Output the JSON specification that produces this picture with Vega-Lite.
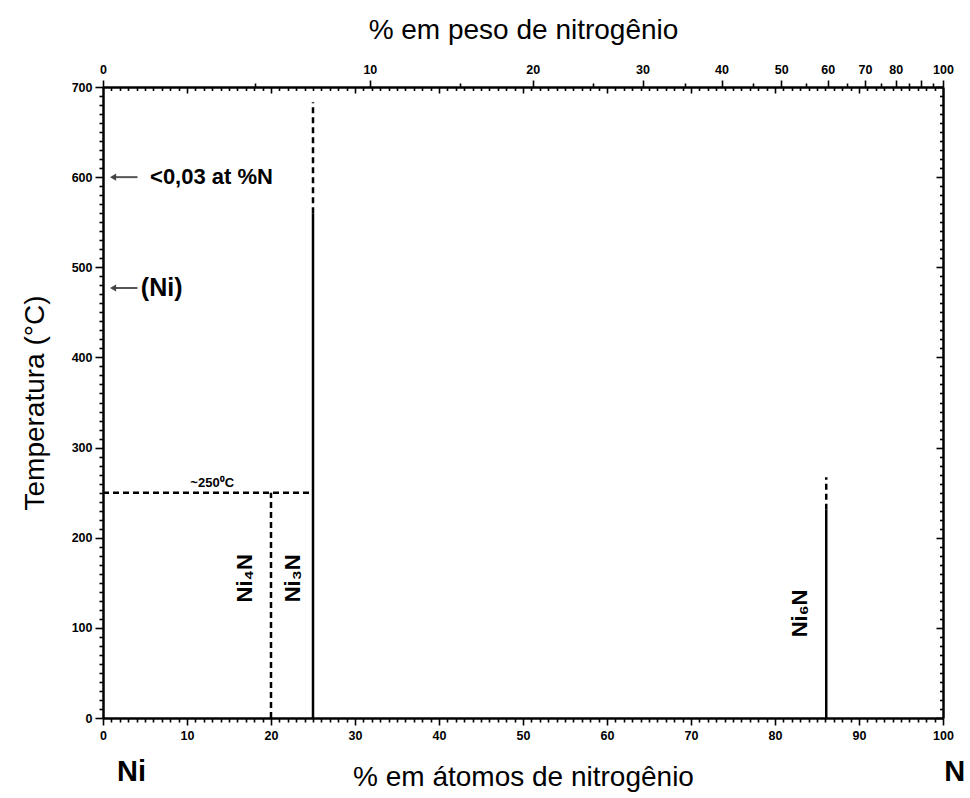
{
  "$schema": "https://vega.github.io/schema/vega-lite/v6.json",
  "width": 840,
  "height": 631,
  "autosize": {"type": "none"},
  "padding": {"left": 103, "top": 87, "right": 27, "bottom": 80},
  "background": "white",
  "config": {
    "view": {"stroke": null},
    "font": "Liberation Sans",
    "axis": {
      "domainColor": "black",
      "domainWidth": 2.5,
      "tickColor": "black",
      "tickWidth": 1.6,
      "labelColor": "black",
      "labelFont": "Liberation Sans",
      "labelFontWeight": "bold",
      "labelFontSize": 12.5,
      "titleColor": "black",
      "titleFont": "Liberation Sans",
      "titleFontWeight": "normal",
      "titleFontSize": 28,
      "grid": false,
      "labelOverlap": false,
      "labelBound": false,
      "labelFlush": false
    }
  },
  "datasets": {
    "segmentos": [
      {"x": 25, "x2": 25, "y": 0, "y2": 560, "estilo": "solid"},
      {"x": 25, "x2": 25, "y": 560, "y2": 683, "estilo": "dashed"},
      {"x": 20, "x2": 20, "y": 0, "y2": 250, "estilo": "dashed"},
      {"x": 0, "x2": 25, "y": 250, "y2": 250, "estilo": "dashed"},
      {"x": 86.1, "x2": 86.1, "y": 0, "y2": 231, "estilo": "solid"},
      {"x": 86.1, "x2": 86.1, "y": 231, "y2": 267, "estilo": "dashed"}
    ],
    "setas": [
      {"x": 1.2, "x2": 4.1, "y": 600},
      {"x": 1.2, "x2": 4.1, "y": 477}
    ],
    "textos": [
      {"x": 5.6, "y": 600, "t": "<0,03 at %N", "tam": 22},
      {"x": 4.5, "y": 477, "t": "(Ni)", "tam": 25}
    ],
    "fases": [
      {"x": 16.9, "y": 155, "t": "Ni₄N"},
      {"x": 22.6, "y": 155, "t": "Ni₃N"},
      {"x": 83.0, "y": 116, "t": "Ni₆N"}
    ],
    "extremos": [
      {"x": 3.4, "y": -60, "t": "Ni"},
      {"x": 101.4, "y": -60, "t": "N"}
    ],
    "temp": [
      {"x": 13, "y": 261, "t": "~250⁰C"}
    ]
  },
  "layer": [
    {
      "layer": [
        {
          "data": {"name": "segmentos"},
          "mark": {"type": "rule", "strokeWidth": 2.5, "color": "black"},
          "encoding": {
            "x": {
              "field": "x", "type": "quantitative",
              "scale": {"domain": [0, 100], "nice": false},
              "axis": {
                "orient": "bottom",
                "title": "% em átomos de nitrogênio",
                "titlePadding": 22,
                "tickCount": 100,
                "labelExpr": "datum.value % 10 === 0 ? datum.label : ''",
                "tickSize": {"condition": {"test": "datum.value % 10 === 0", "value": 7}, "value": 4},
                "labelPadding": 4
              }
            },
            "x2": {"field": "x2"},
            "y": {
              "field": "y", "type": "quantitative",
              "scale": {"domain": [0, 700], "nice": false},
              "axis": {
                "orient": "left",
                "title": "Temperatura (°C)",
                "titlePadding": 22,
                "tickCount": 70,
                "labelExpr": "datum.value % 100 === 0 ? datum.label : ''",
                "tickSize": {"condition": {"test": "datum.value % 100 === 0", "value": 8}, "value": 4},
                "labelPadding": 3
              }
            },
            "y2": {"field": "y2"},
            "strokeDash": {
              "field": "estilo", "type": "nominal",
              "scale": {"domain": ["solid", "dashed"], "range": [[1, 0], [6, 4]]},
              "legend": null
            }
          }
        },
        {
          "data": {"name": "setas"},
          "mark": {"type": "rule", "strokeWidth": 2, "color": "#555555"},
          "encoding": {
            "x": {"field": "x", "type": "quantitative"},
            "x2": {"field": "x2"},
            "y": {"field": "y", "type": "quantitative"}
          }
        },
        {
          "data": {"name": "setas"},
          "mark": {"type": "point", "shape": "triangle-left", "filled": true, "color": "#444444", "size": 50, "opacity": 1},
          "encoding": {
            "x": {"field": "x", "type": "quantitative"},
            "y": {"field": "y", "type": "quantitative"}
          }
        },
        {
          "data": {"name": "textos"},
          "mark": {"type": "text", "align": "left", "baseline": "middle", "fontWeight": "bold", "color": "black", "font": "Liberation Sans"},
          "encoding": {
            "x": {"field": "x", "type": "quantitative"},
            "y": {"field": "y", "type": "quantitative"},
            "text": {"field": "t"},
            "size": {"field": "tam", "type": "quantitative", "scale": null}
          }
        },
        {
          "data": {"name": "fases"},
          "mark": {"type": "text", "align": "center", "baseline": "middle", "fontWeight": "bold", "fontSize": 22, "angle": 270, "color": "black", "font": "Liberation Sans"},
          "encoding": {
            "x": {"field": "x", "type": "quantitative"},
            "y": {"field": "y", "type": "quantitative"},
            "text": {"field": "t"}
          }
        },
        {
          "data": {"name": "extremos"},
          "mark": {"type": "text", "align": "center", "baseline": "middle", "fontWeight": "bold", "fontSize": 29, "color": "black", "font": "Liberation Sans"},
          "encoding": {
            "x": {"field": "x", "type": "quantitative"},
            "y": {"field": "y", "type": "quantitative"},
            "text": {"field": "t"}
          }
        },
        {
          "data": {"name": "temp"},
          "mark": {"type": "text", "align": "center", "baseline": "middle", "fontWeight": "bold", "fontSize": 13, "color": "black", "font": "Liberation Sans"},
          "encoding": {
            "x": {"field": "x", "type": "quantitative"},
            "y": {"field": "y", "type": "quantitative"},
            "text": {"field": "t"}
          }
        }
      ]
    },
    {
      "data": {"values": [{"a": 0, "b": 0}]},
      "mark": {"type": "point", "opacity": 0},
      "encoding": {
        "x": {
          "field": "a", "type": "quantitative",
          "scale": {"domain": [0, 100], "nice": false},
          "axis": {
            "orient": "top",
            "title": "% em peso de nitrogênio",
            "titlePadding": 19,
            "values": [0, 1, 2, 3, 4, 5, 6, 7, 8, 9, 10, 11, 12, 13, 14, 15, 16, 17, 18, 19, 20, 21, 22, 23, 24, 25, 26, 27, 28, 29, 30, 31, 32, 33, 34, 35, 36, 37, 38, 39, 40, 41, 42, 43, 44, 45, 46, 47, 48, 49, 50, 51, 52, 53, 54, 55, 56, 57, 58, 59, 60, 61, 62, 63, 64, 65, 66, 67, 68, 69, 70, 71, 72, 73, 74, 75, 76, 77, 78, 79, 80, 81, 82, 83, 84, 85, 86, 87, 88, 89, 90, 91, 92, 93, 94, 95, 96, 97, 98, 99, 100, 18.07, 31.77, 42.51, 51.16, 58.28, 64.23, 69.29, 73.64, 77.42, 80.73, 83.66, 86.27, 88.61, 90.72, 92.63, 94.37, 95.96, 97.42, 98.76],
            "labelExpr": "indexof([0,31.77,51.16,64.23,73.64,80.73,86.27,90.72,94.37,97.42,100], datum.value) >= 0 ? ['0','10','20','30','40','50','60','70','80','','100'][indexof([0,31.77,51.16,64.23,73.64,80.73,86.27,90.72,94.37,97.42,100], datum.value)] : ''",
            "tickSize": {
              "condition": [
                {"test": "indexof([0,31.77,51.16,64.23,73.64,80.73,86.27,90.72,94.37,97.42,100], datum.value) >= 0", "value": 7},
                {"test": "datum.value % 1 !== 0", "value": 4},
                {"test": "datum.value % 10 === 0", "value": -6}
              ],
              "value": -3.5
            },
            "labelPadding": 4
          }
        },
        "y": {
          "field": "b", "type": "quantitative",
          "scale": {"domain": [0, 700], "nice": false},
          "axis": null
        }
      }
    },
    {
      "data": {"values": [{"a": 0, "b": 0}]},
      "mark": {"type": "point", "opacity": 0},
      "encoding": {
        "x": {
          "field": "a", "type": "quantitative",
          "scale": {"domain": [0, 100], "nice": false},
          "axis": null
        },
        "y": {
          "field": "b", "type": "quantitative",
          "scale": {"domain": [0, 700], "nice": false},
          "axis": {
            "orient": "right",
            "title": null,
            "labels": false,
            "tickCount": 70,
            "tickSize": {"condition": {"test": "datum.value % 100 === 0", "value": -7}, "value": -3.5}
          }
        }
      }
    }
  ],
  "resolve": {
    "scale": {"x": "independent", "y": "independent"},
    "axis": {"x": "independent", "y": "independent"}
  }
}
